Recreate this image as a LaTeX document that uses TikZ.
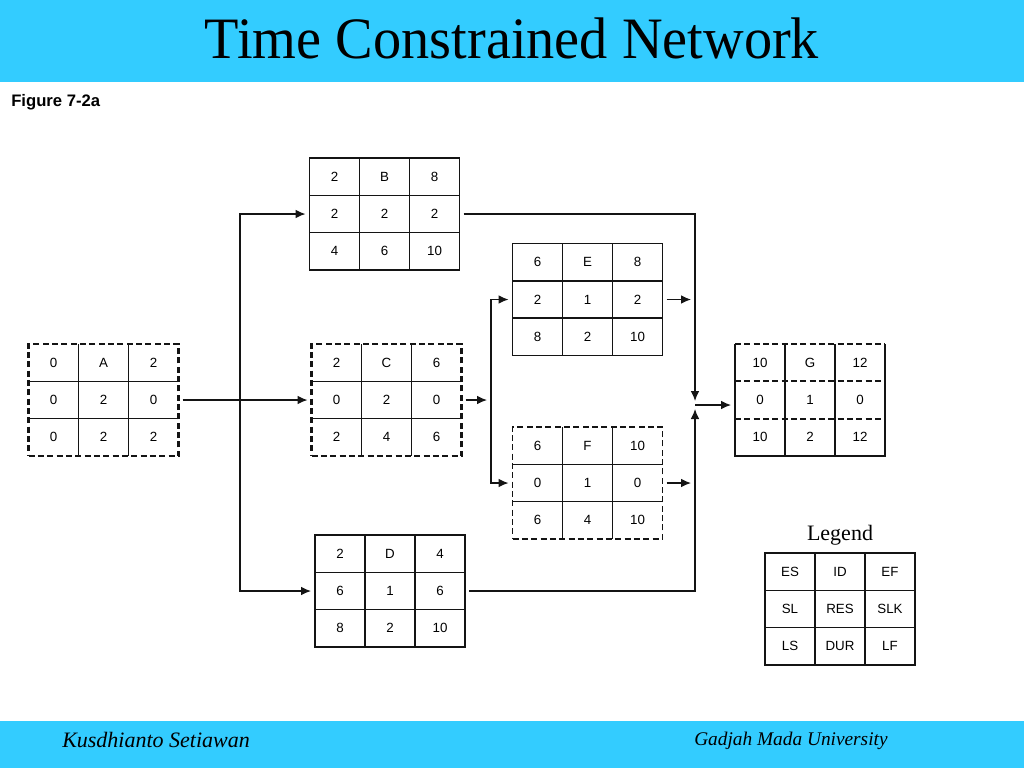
\documentclass[tikz,border=0pt]{standalone}
\usepackage{fontspec}
\setmainfont{Liberation Serif}
\setsansfont{Liberation Sans}
\usetikzlibrary{positioning,calc,arrows.meta}
\definecolor{bandcyan}{RGB}{51, 204, 255}
\definecolor{codeblack}{RGB}{20, 20, 20}
\tikzset{
  actbox/.style={rectangle, draw=codeblack, line width=1.1pt, minimum width=112.5pt,
    minimum height=84pt, inner sep=0pt, outer sep=0pt},
  critbox/.style={actbox, line width=1.6pt, dash pattern=on 4.5pt off 2.5pt},
  gridline/.style={draw=codeblack, line width=1.1pt},
  dashline/.style={draw=codeblack, line width=1.6pt, dash pattern=on 4.5pt off 2.5pt},
  cell/.style={font=\sffamily\fontsize{10}{12}\selectfont, inner sep=0pt},
  link/.style={draw=codeblack, line width=0.9pt, -{Latex[length=7.5pt,width=6.5pt]}, shorten >=3pt},
  startgap/.style={shorten <=3pt}
}
% one activity box: name, centre, border style, row line style, the nine values
\newcommand{\activity}[5]{%
  \node[#3] (#1) at #2 {};
  \draw[gridline] ($(#1.north west)+(50,0)$) -- ($(#1.south west)+(50,0)$);
  \draw[gridline] ($(#1.north west)+(100,0)$) -- ($(#1.south west)+(100,0)$);
  \draw[#4] ($(#1.north west)+(0,37.33)$) -- ($(#1.north east)+(0,37.33)$);
  \draw[#4] ($(#1.north west)+(0,74.67)$) -- ($(#1.north east)+(0,74.67)$);
  \foreach \v [count=\i from 0] in {#5} {
    \pgfmathtruncatemacro\cc{mod(\i,3)}
    \pgfmathtruncatemacro\rr{\i/3}
    \node[cell] (#1-\i) at ($(#1.north west)+(25+50*\cc,18.67+37.33*\rr)$) {\v};
  }
}

\begin{document}
\begin{tikzpicture}[x=0.75pt, y=-0.75pt]
  \useasboundingbox (0,0) rectangle (1024,768);

  % Header and footer bands
  \fill[bandcyan] (0,0) rectangle (1024,82);
  \fill[bandcyan] (0,721) rectangle (1024,768);
  \node[font=\fontsize{44}{50}\selectfont] (title) at (512,38)
    {\scalebox{0.96}[1]{Time Constrained Network}};
  \node[anchor=base west, inner sep=0pt, font=\sffamily\bfseries\fontsize{12.5}{15}\selectfont]
    (figlabel) at (11,106) {Figure 7-2a};
  \node[anchor=base west, inner sep=0pt, font=\itshape\fontsize{16.5}{20}\selectfont] (author)
    at (62,747) {Kusdhianto Setiawan};
  \node[anchor=base west, inner sep=0pt, font=\itshape\fontsize{14.5}{18}\selectfont] (univ)
    at (694,745) {Gadjah Mada University};

  % Activities: ES ID EF / SL RES SLK / LS DUR LF
  \activity{A}{(103.5,400)}{critbox}{gridline}{0,A,2,0,2,0,0,2,2}
  \activity{B}{(384.5,214)}{actbox}{gridline}{2,B,8,2,2,2,4,6,10}
  \activity{C}{(386.5,400)}{critbox}{gridline}{2,C,6,0,2,0,2,4,6}
  \activity{D}{(390,591)}{actbox}{gridline}{2,D,4,6,1,6,8,2,10}
  \activity{E}{(587.5,299.5)}{actbox}{gridline}{6,E,8,2,1,2,8,2,10}
  \activity{F}{(587.5,483)}{critbox, line width=1.2pt}{gridline}{6,F,10,0,1,0,6,4,10}
  \activity{G}{(810,400)}{actbox, draw=none}{dashline}{10,G,12,0,1,0,10,2,12}
  % G has a dashed top, solid sides and bottom
  \draw[gridline] (G.north west) -- (G.south west) -- (G.south east) -- (G.north east);
  \draw[dashline] (G.north west) -- (G.north east);

  % Legend
  \activity{legend}{(840,609)}{actbox}{gridline}{ES,ID,EF,SL,RES,SLK,LS,DUR,LF}
  \node[font=\fontsize{16.5}{20}\selectfont, above=2pt of legend] (legendlabel) {Legend};

  % Branch and merge points
  \coordinate (forkA) at (240,400);
  \coordinate (forkC) at (491,400);
  \coordinate (merge) at (695,405);

  % Connectors
  \draw[link, startgap] (A.east) -- (C.west);
  \draw[link] (forkA) |- (B.west);
  \draw[link] (forkA) |- (D.west);
  \draw[link, startgap] (C.east) -- (forkC);
  \draw[link] (forkC) |- (E.west);
  \draw[link] (forkC) |- (F.west);
  \draw[link, startgap] (B.east) -| (merge);
  \draw[link, startgap] (D.east) -| (merge);
  \draw[link, startgap] (E.east) -- (E.east -| merge);
  \draw[link, startgap] (F.east) -- (F.east -| merge);
  \draw[link] (merge) -- (merge -| G.west);

\end{tikzpicture}
\end{document}
